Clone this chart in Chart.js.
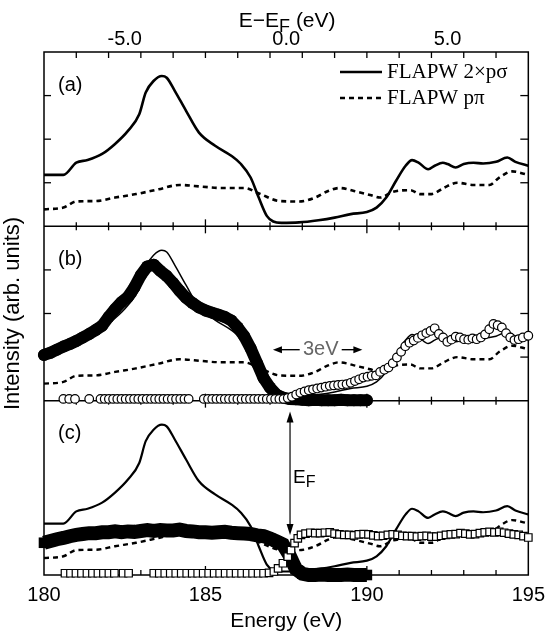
<!DOCTYPE html>
<html><head><meta charset="utf-8">
<script src="https://cdn.jsdelivr.net/npm/chart.js@4.4.1/dist/chart.umd.min.js"></script>
<style>html,body{margin:0;padding:0;background:#fff}canvas{display:block}</style>
</head><body>
<canvas id="c" width="553" height="635"></canvas>
<script>
// ---- tick labels / text ----
const xTicksBottom = [180, 185, 190, 195];
const xTicksTop = [-5, 0, 5];
const EF = 187.5;
const panelLabels = ['(a)', '(b)', '(c)'];
const legendLabels = ['FLAPW 2×pσ', 'FLAPW pπ'];

// ---- FLAPW 2×pσ (solid) ----
const sigmaE = [180.0,180.6,181.0,181.35,181.8,182.2,182.6,182.95,183.15,183.4,183.65,183.8,184.05,184.4,184.8,185.3,185.8,186.1,186.4,186.65,186.9,187.1,187.35,187.9,188.5,189.0,189.5,190.0,190.3,190.6,190.9,191.2,191.4,191.6,191.9,192.1,192.35,192.5,192.75,193.0,193.3,193.6,194.0,194.35,194.6,195.0];
const sigmaI = [1.18,1.18,1.46,1.52,1.66,1.89,2.19,2.57,3.07,3.34,3.45,3.41,3.11,2.65,2.15,1.85,1.62,1.43,1.12,0.66,0.24,0.11,0.08,0.09,0.14,0.20,0.28,0.33,0.43,0.66,1.04,1.39,1.52,1.46,1.31,1.39,1.46,1.43,1.35,1.43,1.46,1.44,1.48,1.58,1.48,1.39];

// ---- FLAPW pπ (dashed) ----
const piE = [180.0,180.6,181.0,181.6,182.2,182.85,183.55,184.2,184.9,185.5,186.2,186.7,187.3,187.9,188.4,188.8,189.15,189.6,190.1,190.4,190.8,191.35,191.65,192.0,192.4,192.8,193.3,193.8,194.1,194.5,194.9,195.0];
const piI = [0.39,0.43,0.57,0.58,0.66,0.74,0.85,0.95,0.91,0.88,0.88,0.74,0.58,0.57,0.66,0.81,0.88,0.81,0.72,0.66,0.79,0.83,0.74,0.74,0.89,1.0,0.95,0.95,1.12,1.26,1.20,1.18];

// ---- panel (b): filled circles ----
const emisBE = [180.0,180.2,180.4,180.6,180.8,181.0,181.2,181.4,181.6,181.8,182.0,182.2,182.4,182.6,182.8,183.0,183.2,183.4,183.6,183.8,184.0,184.2,184.4,184.6,184.8,185.0,185.2,185.4,185.6,185.8,186.0,186.2,186.4,186.6,186.8,187.0,187.2,187.4,187.6,187.8,188.0,188.2,188.4,188.6,188.8,189.0,189.2,189.4,189.6,189.8,190.0];
const emisBI = [1.05,1.10,1.17,1.24,1.30,1.37,1.45,1.53,1.62,1.72,1.92,2.10,2.26,2.38,2.60,2.88,3.08,3.12,2.98,2.86,2.70,2.52,2.36,2.24,2.14,2.07,2.02,1.97,1.92,1.84,1.68,1.48,1.20,0.86,0.52,0.30,0.14,0.07,0.04,0.03,0.02,0.01,0.02,0.01,0.01,0.01,0.02,0.01,0.01,0.01,0.01];

// ---- panel (b): open circles ----
const absBE = [180.6,180.78,180.96,181.4,181.75,181.88,182.01,182.14,182.27,182.4,182.53,182.66,182.79,182.92,183.05,183.18,183.31,183.44,183.57,183.7,183.83,183.96,184.09,184.22,184.35,184.48,
  184.95,185.08,185.21,185.34,185.47,185.6,185.73,185.86,185.99,186.12,186.25,186.38,186.51,186.64,186.77,186.9,187.03,187.16,187.29,
  187.42,187.55,187.68,187.81,187.94,188.07,188.2,188.33,188.46,188.59,188.72,188.85,188.98,189.11,189.24,189.37,189.5,189.63,189.76,189.89,190.02,190.15,190.28,190.41,190.54,190.67,190.8,190.93,191.06,191.19,191.32,191.45,191.58,191.71,191.84,191.97,192.1,192.23,192.36,192.49,192.62,192.75,192.88,193.01,193.14,193.27,193.4,193.53,193.66,193.79,193.92,194.05,194.18,194.31,194.44,194.57,194.7,194.83,195.0];
const absBI = [0.04,0.04,0.04,0.04,0.04,0.04,0.04,0.04,0.04,0.04,0.04,0.04,0.04,0.04,0.04,0.04,0.04,0.04,0.04,0.04,0.04,0.04,0.04,0.04,0.04,0.04,
  0.04,0.04,0.04,0.04,0.04,0.04,0.04,0.04,0.04,0.04,0.04,0.04,0.04,0.04,0.04,0.04,0.04,0.04,0.04,
  0.04,0.06,0.09,0.14,0.18,0.21,0.24,0.26,0.28,0.30,0.32,0.34,0.35,0.36,0.37,0.38,0.41,0.45,0.49,0.53,0.55,0.57,0.58,0.66,0.71,0.76,0.86,0.99,1.12,1.25,1.33,1.38,1.44,1.50,1.55,1.60,1.66,1.53,1.45,1.35,1.40,1.47,1.45,1.41,1.40,1.43,1.41,1.45,1.52,1.64,1.76,1.73,1.68,1.55,1.45,1.39,1.41,1.45,1.49];

// ---- panel (c): filled squares ----
const emisCE = [180.0,180.2,180.4,180.6,180.8,181.0,181.2,181.4,181.6,181.8,182.0,182.2,182.4,182.6,182.8,183.0,183.2,183.4,183.6,183.8,184.0,184.2,184.4,184.6,184.8,185.0,185.2,185.4,185.6,185.8,186.0,186.2,186.4,186.6,186.8,187.0,187.2,187.4,187.6,187.8,188.0,188.2,188.4,188.6,188.8,189.0,189.2,189.4,189.6,189.8,190.0];
const emisCI = [0.74,0.78,0.82,0.85,0.89,0.92,0.94,0.96,0.96,0.98,0.98,1.00,0.98,1.00,0.99,1.01,1.03,1.01,1.03,1.02,1.02,1.04,1.01,1.00,0.98,0.98,0.97,0.98,0.99,0.97,0.96,0.95,0.94,0.91,0.89,0.84,0.77,0.70,0.46,0.14,0.03,0.0,0.0,0.01,0.0,0.0,0.0,0.01,0.0,0.0,0.0];

// ---- panel (c): open squares ----
const absCE = [180.65,180.82,180.99,181.16,181.33,181.5,181.67,181.84,182.01,182.18,182.45,182.62,183.4,183.57,183.74,183.91,184.08,184.25,184.42,184.59,184.76,184.93,185.1,185.27,185.44,185.61,185.78,185.95,186.12,186.29,186.46,186.63,186.8,186.97,187.12,
  187.25,187.4,187.55,187.65,187.76,187.86,187.96,
  188.1,188.25,188.4,188.55,188.7,188.85,189.0,189.15,189.3,189.45,189.6,189.75,189.9,190.05,190.2,190.35,190.5,190.65,190.8,190.95,191.1,191.25,191.4,191.55,191.7,191.85,192.0,192.15,192.3,192.45,192.6,192.75,192.9,193.05,193.2,193.35,193.5,193.65,193.8,193.95,194.1,194.25,194.4,194.55,194.7,194.85,195.0];
const absCI = [0.04,0.04,0.04,0.04,0.04,0.04,0.04,0.04,0.04,0.04,0.04,0.04,0.04,0.04,0.04,0.04,0.04,0.04,0.04,0.04,0.04,0.04,0.04,0.04,0.04,0.04,0.04,0.04,0.04,0.04,0.04,0.04,0.04,0.05,0.08,
  0.15,0.27,0.42,0.57,0.73,0.84,0.92,
  0.95,0.97,0.96,0.96,0.97,0.98,0.95,0.93,0.92,0.92,0.91,0.93,0.94,0.93,0.91,0.89,0.90,0.92,0.93,0.92,0.90,0.89,0.89,0.88,0.89,0.90,0.88,0.88,0.90,0.92,0.93,0.94,0.96,0.95,0.93,0.94,0.96,0.98,0.99,0.98,0.99,0.97,0.95,0.93,0.92,0.89,0.86];

// ---- panel offsets on the shared intensity axis (each panel spans 4 units) ----
const OFF = {a: 8, b: 4, c: 0};
const pts = (E, I, off) => E.map((e, i) => ({x: e, y: I[i] + off}));

const SANS = '"Liberation Sans", Arial, Helvetica, sans-serif';
const SERIF = '"Liberation Serif", "Times New Roman", serif';
Chart.defaults.font.family = SANS;
Chart.defaults.color = '#000';

function theory(off, wS, wD) {
  return [
    {data: pts(sigmaE, sigmaI, off), borderColor: '#000', borderWidth: wS, pointRadius: 0, showLine: true, cubicInterpolationMode: 'monotone', order: 5, clip: false},
    {data: pts(piE, piI, off), borderColor: '#000', borderWidth: wD, borderDash: [5, 4], pointRadius: 0, showLine: true, cubicInterpolationMode: 'monotone', order: 5, clip: false}
  ];
}

const datasets = [
  ...theory(OFF.a, 2.6, 2.6),
  ...theory(OFF.b, 1.5, 2.4),
  ...theory(OFF.c, 2.2, 2.4),
  {data: pts(emisBE, emisBI, OFF.b), showLine: true, borderColor: '#000', borderWidth: 12, borderJoinStyle: 'round', borderCapStyle: 'round',
   pointStyle: 'circle', pointRadius: 6, pointBorderWidth: 0, pointBackgroundColor: '#000', pointBorderColor: '#000', order: 3, clip: false},
  {data: pts(absBE, absBI, OFF.b), showLine: false, pointStyle: 'circle', pointRadius: 4.3,
   pointBackgroundColor: '#fff', pointBorderColor: '#000', pointBorderWidth: 1.2, order: 1, clip: false},
  {data: pts(emisCE, emisCI, OFF.c), showLine: true, borderColor: '#000', borderWidth: 14, borderJoinStyle: 'miter', borderCapStyle: 'butt',
   pointStyle: 'rect', pointRadius: 7.5, pointBorderWidth: 0, pointBackgroundColor: '#000', pointBorderColor: '#000', order: 3, clip: false},
  {data: pts(absCE, absCI, OFF.c), showLine: false, pointStyle: 'rect', pointRadius: 5.3,
   pointBackgroundColor: '#fff', pointBorderColor: '#000', pointBorderWidth: 1.2, order: 1, clip: false}
];

function seg(ctx, x1, y1, x2, y2) { ctx.beginPath(); ctx.moveTo(x1, y1); ctx.lineTo(x2, y2); ctx.stroke(); }
function head(ctx, x, y, dx, dy, len, hw) {
  const px = -dy, py = dx;
  ctx.beginPath();
  ctx.moveTo(x, y);
  ctx.lineTo(x - dx * len + px * hw, y - dy * len + py * hw);
  ctx.lineTo(x - dx * len - px * hw, y - dy * len - py * hw);
  ctx.closePath(); ctx.fill();
}

const framePlugin = {
  id: 'frame',
  beforeDatasetsDraw(chart) {
    const {ctx, chartArea: ca, scales: {x, y}} = chart;
    ctx.save();
    ctx.strokeStyle = '#000'; ctx.lineWidth = 1.5; ctx.lineCap = 'butt';
    ctx.strokeRect(ca.left, ca.top, ca.right - ca.left, ca.bottom - ca.top);
    [OFF.b, OFF.a].forEach(v => { const py = y.getPixelForValue(v); seg(ctx, ca.left, py, ca.right, py); });
    ctx.lineWidth = 1.3;
    for (let e = 181; e <= 194; e++) {
      const px = x.getPixelForValue(e);
      const major = e % 5 === 0;
      seg(ctx, px, ca.bottom, px, ca.bottom - (major ? 9 : 5));
      [OFF.b, OFF.a].forEach(v => { const py = y.getPixelForValue(v); const l = major ? 7 : 4; seg(ctx, px, py - l, px, py + l); });
      seg(ctx, px, ca.top, px, ca.top + 6);
    }
    [OFF.b + 1, OFF.b + 2, OFF.b + 3, OFF.a + 1, OFF.a + 2, OFF.a + 3].forEach(v => {
      const py = y.getPixelForValue(v);
      seg(ctx, ca.left, py, ca.left + 7, py);
      seg(ctx, ca.right, py, ca.right - 8, py);
    });
    ctx.restore();
  },
  afterDatasetsDraw(chart) {
    const {ctx, chartArea: ca, scales: {x, y}} = chart;
    ctx.save();
    ctx.fillStyle = '#000'; ctx.strokeStyle = '#000';
    ctx.font = '20px ' + SANS; ctx.textBaseline = 'middle'; ctx.textAlign = 'left';
    panelLabels.forEach((t, i) => { const top = y.getPixelForValue(12 - 4 * i); ctx.fillText(t, ca.left + 14, top + 33); });
    ctx.lineWidth = 2.6;
    seg(ctx, ca.left + 296, ca.top + 20, ca.left + 338, ca.top + 20);
    ctx.setLineDash([5, 4]);
    seg(ctx, ca.left + 296, ca.top + 46, ca.left + 338, ca.top + 46);
    ctx.setLineDash([]);
    ctx.font = '21px ' + SERIF;
    ctx.fillText(legendLabels[0], ca.left + 343, ca.top + 20);
    ctx.fillText(legendLabels[1], ca.left + 343, ca.top + 46);
    const ya = y.getPixelForValue(OFF.b + 1.17);
    const xl = x.getPixelForValue(187.09), xr = x.getPixelForValue(189.86);
    const xm = x.getPixelForValue(188.57);
    ctx.lineWidth = 1.4;
    seg(ctx, xl + 6, ya, xm - 21, ya);
    seg(ctx, xm + 21, ya, xr - 6, ya);
    head(ctx, xl, ya, -1, 0, 9, 3.5);
    head(ctx, xr, ya, 1, 0, 9, 3.5);
    ctx.fillStyle = '#666'; ctx.font = '20px ' + SANS; ctx.textAlign = 'center';
    ctx.fillText('3eV', xm, ya);
    ctx.fillStyle = '#000';
    const xe = x.getPixelForValue(187.62);
    const yt = y.getPixelForValue(OFF.c + 3.75), yb = y.getPixelForValue(OFF.c + 0.92);
    ctx.lineWidth = 1.2;
    seg(ctx, xe, yt + 8, xe, yb - 8);
    head(ctx, xe, yt, 0, -1, 11, 3.5);
    head(ctx, xe, yb, 0, 1, 11, 3.5);
    ctx.textAlign = 'left'; ctx.textBaseline = 'alphabetic';
    ctx.font = '19px ' + SANS;
    const ey = y.getPixelForValue(OFF.c + 2.1);
    ctx.fillText('E', xe + 3, ey);
    const ew = ctx.measureText('E').width;
    ctx.font = '16px ' + SANS;
    ctx.fillText('F', xe + 3 + ew, ey + 4);
    const parts = [['E\u2212E', 21, 0], ['F', 18, 5], [' (eV)', 21, 0]];
    let total = 0;
    parts.forEach(p => { ctx.font = p[1] + 'px ' + SANS; total += ctx.measureText(p[0]).width; });
    let cx = (ca.left + ca.right) / 2 - total / 2 + 1;
    parts.forEach(p => { ctx.font = p[1] + 'px ' + SANS; ctx.fillText(p[0], cx, 27 + p[2]); cx += ctx.measureText(p[0]).width; });
    ctx.restore();
  }
};

new Chart(document.getElementById('c'), {
  type: 'scatter',
  data: {datasets},
  options: {
    responsive: false, animation: false, events: [],
    devicePixelRatio: 1,
    layout: {padding: {left: 0, right: 20.5, top: 0, bottom: 0}},
    plugins: {legend: {display: false}, tooltip: {enabled: false}},
    elements: {line: {tension: 0}},
    scales: {
      x: {
        type: 'linear', position: 'bottom', min: 180, max: 195,
        afterBuildTicks: s => { s.ticks = xTicksBottom.map(v => ({value: v})); },
        ticks: {font: {size: 20}, padding: 8, maxRotation: 0, autoSkip: false},
        grid: {display: false, drawTicks: false}, border: {display: false},
        title: {display: true, text: 'Energy (eV)', font: {size: 21}, padding: {top: 0, bottom: 1}},
        afterFit: s => { s.height = 60; }
      },
      x2: {
        type: 'linear', position: 'top', min: 180 - EF, max: 195 - EF,
        afterBuildTicks: s => { s.ticks = xTicksTop.map(v => ({value: v})); },
        ticks: {font: {size: 20}, padding: 1, maxRotation: 0, autoSkip: false, callback: v => Number(v).toFixed(1)},
        grid: {display: false, drawTicks: false}, border: {display: false},
        afterFit: s => { s.height = 52; }
      },
      y: {
        type: 'linear', position: 'left', min: 0, max: 12,
        ticks: {display: false}, grid: {display: false, drawTicks: false}, border: {display: false},
        title: {display: true, text: 'Intensity (arb. units)', font: {size: 22}, padding: 0},
        afterFit: s => { s.width = 44; }
      }
    }
  },
  plugins: [framePlugin]
});
</script>
</body></html>
